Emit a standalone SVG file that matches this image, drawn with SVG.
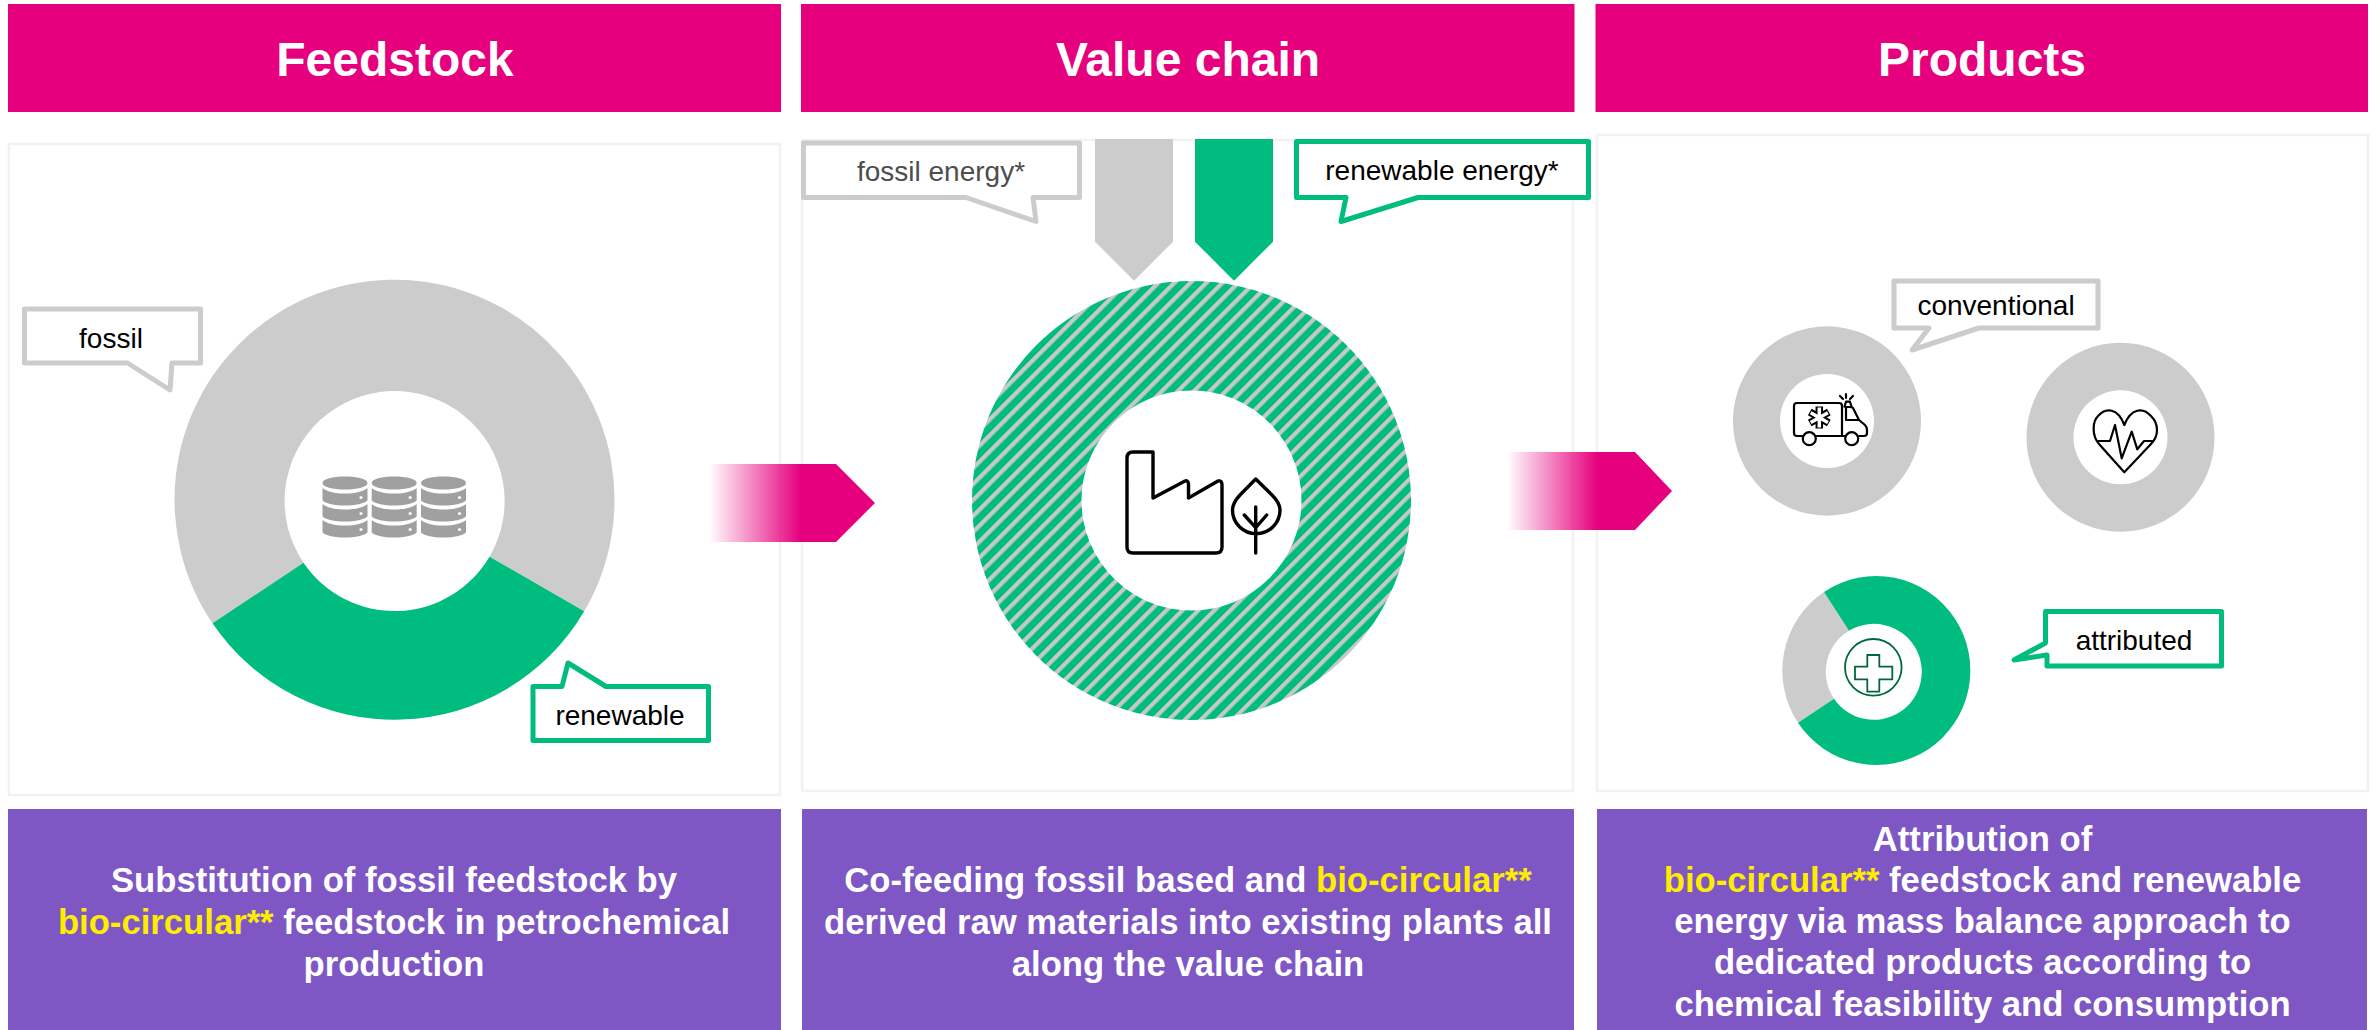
<svg xmlns="http://www.w3.org/2000/svg" width="2374" height="1030" viewBox="0 0 2374 1030">
<style>
text{font-family:"Liberation Sans",Arial,sans-serif}
.hd{fill:#e6007e}.pl{fill:#7e57c5}.pn{fill:#fff;stroke:#f2f2f2;stroke-width:2.5}
.h{fill:#fff;font-size:48px;font-weight:700;text-anchor:middle}
.d{fill:#fff;font-size:34.67px;font-weight:700;text-anchor:middle}
.y{fill:#ffed00}
.l{fill:#000;font-size:28px;text-anchor:middle}
.cg,.cn{fill:#fff;stroke-width:5;stroke-linejoin:round}
.cg{stroke:#ccc}.cn{stroke:#00bc7e}
.gr{fill:#ccc}.gn{fill:#00bc7e}
.ic{fill:none;stroke:#000;stroke-width:3.4;stroke-linejoin:round;stroke-linecap:round}
.ic2{fill:none;stroke:#000;stroke-width:2.2;stroke-linejoin:round;stroke-linecap:round}
</style>
<defs>
<linearGradient id="fade" x1="0" x2="1" y1="0" y2="0"><stop offset="0" stop-color="#e6007e" stop-opacity="0"/><stop offset=".55" stop-color="#e6007e"/><stop offset="1" stop-color="#e6007e"/></linearGradient>
<pattern id="hatch" width="11.3" height="11.3" patternUnits="userSpaceOnUse" patternTransform="rotate(45)"><rect width="11.3" height="11.3" fill="#00bc7e"/><rect width="4.2" height="11.3" fill="#c8c8c8"/></pattern>
<g id="cyl"><path d="M0 6.5C0 2.5 10 0 22.5 0S45 2.5 45 6.5 35 13 22.5 13 0 10.500 0 6.500Z" fill="#a0a0a0"/><path d="M0 11.500C4 15 12 17 22.500 17S41 15 45 11.500V24C41 27.500 33 29 22.500 29S4 27.500 0 24Z" fill="#a0a0a0"/><path d="M0 27.500C4 31 12 33 22.500 33S41 31 45 27.500V40C41 43.500 33 45 22.500 45S4 43.500 0 40Z" fill="#a0a0a0"/><path d="M0 43.500C4 47 12 49 22.500 49S41 47 45 43.500V56C41 59.500 33 61 22.500 61S4 59.500 0 56Z" fill="#a0a0a0"/><circle cx="38.500" cy="21" r="1.600" fill="#fff"/><circle cx="38.500" cy="37" r="1.600" fill="#fff"/><circle cx="38.500" cy="53" r="1.600" fill="#fff"/></g>
</defs>
<g id="feedstock">
<rect class="hd" x="8" y="4" width="773" height="108"/><text class="h" x="395" y="76">Feedstock</text>
<rect class="pn" x="9" y="144" width="771" height="651"/>
<g transform="translate(.5 .7)"><path class="gr" d="M212 622.600A220 220 0 1 1 583.700 610.500L489 556A110 110 0 1 0 303 562Z"/>
<path class="gn" d="M212 622.600L303 562A110 110 0 0 0 489 556L583.700 610.500A220 220 0 0 1 212 622.600Z"/></g>
<g id="barrels"><use href="#cyl" x="322.500" y="476.500"/><use href="#cyl" x="371.700" y="476.500"/><use href="#cyl" x="421" y="476.500"/></g>
<path class="cg" d="M24.500 309H200.500V363H172L170 390L127.500 363H24.500Z"/><text class="l" x="111" y="348">fossil</text>
<path class="cn" d="M533 686.500H562L568 663L606 686.500H708.500V740.500H533Z"/><text class="l" x="620" y="725">renewable</text>
<rect class="pl" x="8" y="809" width="773" height="221"/>
<text class="d" y="892"><tspan x="394">Substitution of fossil feedstock by</tspan><tspan x="394" y="934"><tspan class="y">bio-circular**</tspan> feedstock in petrochemical</tspan><tspan x="394" y="976">production</tspan></text>
</g>
<g id="valuechain">
<rect class="hd" x="801" y="4" width="773.500" height="108"/><text class="h" x="1188" y="76">Value chain</text>
<rect class="pn" x="802" y="140" width="771" height="651"/>
<path fill="url(#hatch)" fill-rule="evenodd" d="M972 500.500A219.500 219.500 0 1 1 1411 500.500A219.500 219.500 0 1 1 972 500.500ZM1081.500 500.500A110 110 0 1 0 1301.500 500.500A110 110 0 1 0 1081.500 500.500Z"/>
<path class="gr" d="M1095 139H1173V241.700L1134 280.700L1095 241.700Z"/>
<path class="gn" d="M1195 139H1273V241.700L1234 280.700L1195 241.700Z"/>
<g id="factory" class="ic"><path d="M1127 458Q1127 452 1133 452H1153V498L1185 481Q1188 480 1188.500 484V498L1218 481Q1222 480 1222 485V547Q1222 553 1216 553H1133Q1127 553 1127 547Z"/><path d="M1255.700 479L1272 495Q1280 503 1280 510A23.500 23.500 0 0 1 1232.500 510Q1232.500 503 1240 495ZM1255.700 507V553M1244.300 515L1255.700 527.700L1266.700 515"/></g>
<path class="cg" d="M803.500 143H1079.500V197.500H1033L1036 221.500L966 197.500H803.500Z"/><text class="l" x="941" y="181" style="fill:#4d4d4d">fossil energy*</text>
<path class="cn" d="M1296.500 141.500H1588.500V197.500H1418L1341 221.500L1346 197.500H1296.500Z"/><text class="l" x="1442" y="180">renewable energy*</text>
<rect class="pl" x="802" y="809" width="772" height="221"/>
<text class="d" y="892"><tspan x="1188">Co-feeding fossil based and <tspan class="y">bio-circular**</tspan></tspan><tspan x="1188" y="934">derived raw materials into existing plants all</tspan><tspan x="1188" y="976">along the value chain</tspan></text>
</g>
<g id="products">
<rect class="hd" x="1595.500" y="4" width="772.500" height="108"/><text class="h" x="1982" y="76">Products</text>
<rect class="pn" x="1597" y="135" width="771" height="656"/>
<path class="gr" fill-rule="evenodd" d="M1733 421A94 94.500 0 1 1 1921 421A94 94.500 0 1 1 1733 421ZM1780 421A47 47 0 1 0 1874 421A47 47 0 1 0 1780 421Z"/>
<path class="gr" fill-rule="evenodd" d="M2026.500 437.300A94 94.500 0 1 1 2214.500 437.300A94 94.500 0 1 1 2026.500 437.300ZM2073.500 437.300A47 47 0 1 0 2167.500 437.300A47 47 0 1 0 2073.500 437.300Z"/>
<path class="gr" d="M1824 592A94 94.500 0 0 0 1798 722.700L1834 698.700A48 48 0 0 1 1849 630.700Z"/>
<path class="gn" d="M1824 592A94 94.500 0 1 1 1798 722.700L1834 698.700A48 48 0 1 0 1849 630.700Z"/>
<g id="ambulance" class="ic2"><path d="M1802 436H1797Q1794 436 1794 433V406Q1794 403 1797 403H1839Q1842 403 1842 406V436H1816.500M1846 407V420H1859L1853 408Q1852 407 1850 407ZM1859 420L1865 425Q1867 427 1867 430V433Q1867 436 1864 436H1859M1844.500 436H1842"/><circle cx="1809.300" cy="438.700" r="6.500"/><circle cx="1851.700" cy="438.700" r="6.500"/><path d="M1844.500 406.700L1846 401.700H1850L1851.500 406.700M1840 396L1843 399M1846 394V398M1853 396L1850 399"/><g stroke-linecap="butt"><path stroke-width="7.500" d="M1819.300 406.500V428.500M1809.800 412.100L1828.800 423.100M1809.800 423.100L1828.800 412.100"/><path stroke="#fff" stroke-width="3.500" d="M1819.300 407.500V427.500M1810.700 412.700L1827.900 422.500M1810.700 422.500L1827.900 412.700"/></g></g>
<g id="heart" class="ic2"><path d="M2124.300 472.300L2099 444C2092 436 2092 422 2098 416C2106 407 2118 408 2124.300 425C2131 408 2143 407 2151 416C2159 424 2159 436 2151 444Z"/><path d="M2097.700 441H2110L2115 425L2121.700 458.300L2131.700 431.700L2137.300 449.300L2144 441H2152.700"/></g>
<g id="cross"><circle cx="1873.300" cy="667.300" r="28.300" fill="none" stroke="#00693c" stroke-width="1.800"/><path d="M1867.300 655H1879.300V666.700H1892.300V679.300H1879.300V691.700H1867.300V679.300H1855V666.700H1867.300Z" fill="none" stroke="#00693c" stroke-width="1.800"/></g>
<path class="cg" d="M1894 281H2098V328H1979L1912 350L1929 328H1894Z"/><text class="l" x="1996" y="315">conventional</text>
<path class="cn" d="M2045.500 611.500H2221.500V666H2047V655L2014 660L2045.500 643Z"/><text class="l" x="2134" y="650">attributed</text>
<rect class="pl" x="1597" y="809" width="770" height="221"/>
<text class="d"><tspan x="1982.500" y="851">Attribution of</tspan><tspan x="1982.500" y="892"><tspan class="y">bio-circular**</tspan> feedstock and renewable</tspan><tspan x="1982.500" y="933">energy via mass balance approach to</tspan><tspan x="1982.500" y="974">dedicated products according to</tspan><tspan x="1982.500" y="1016">chemical feasibility and consumption</tspan></text>
</g>
<g id="connectors">
<path fill="url(#fade)" d="M709 464H836L875 503L836 542H709Z"/>
<path fill="url(#fade)" d="M1507 452H1635L1672 491L1635 530H1507Z"/>
</g>
</svg>
